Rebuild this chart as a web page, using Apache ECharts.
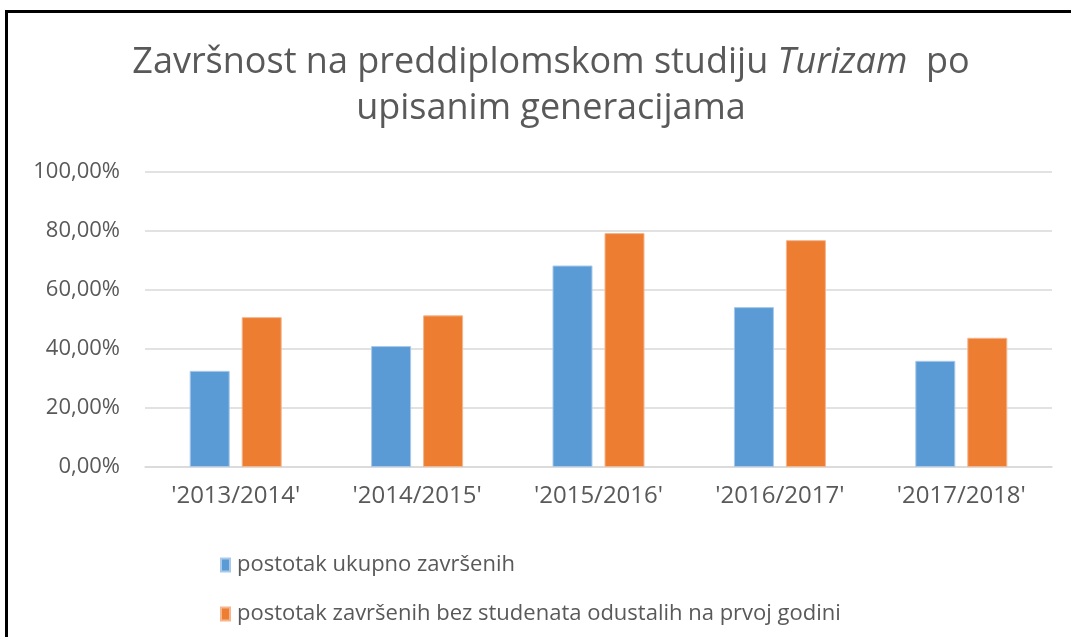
<!DOCTYPE html>
<html>
<head>
<meta charset="utf-8">
<script src="https://cdn.jsdelivr.net/npm/echarts@6/dist/echarts.min.js"></script>
<style>
    html, body { margin: 0; padding: 0; background: #fff; }
    #frame {
        position: absolute; left: 5px; top: 10px; width: 1066px; height: 640px;
        border-left: 3px solid #000; border-top: 3px solid #000;
    }
    #chart { position: absolute; left: 0; top: 0; width: 1071px; height: 637px; }
</style>
</head>
<body>
<div id="frame"></div>
<div id="chart"></div>
<script>
    // generacije
    var generacije = ["'2013/2014'", "'2014/2015'", "'2015/2016'", "'2016/2017'", "'2017/2018'"];
    var ukupnoZavrsenih = [32.6, 41.0, 68.3, 54.2, 36.0];
    var bezOdustalih = [50.8, 51.4, 79.3, 76.9, 43.8];
    var seriesNames = ['postotak ukupno završenih', 'postotak završenih bez studenata odustalih na prvoj godini'];

    var font = "'Open Sans', 'Noto Sans', sans-serif";
    var chart = echarts.init(document.getElementById('chart'));
    chart.setOption({
        animation: false,
        title: {
            text: 'Završnost na preddiplomskom studiju {i|Turizam}  po\nupisanim generacijama',
            left: 546,
            textAlign: 'center',
            top: 35,
            textStyle: {
                fontFamily: font,
                fontSize: 36,
                fontWeight: 'normal',
                color: '#595959',
                lineHeight: 46,
                rich: {
                    i: { fontFamily: font, fontSize: 36, fontStyle: 'italic', color: '#595959', lineHeight: 46 }
                }
            }
        },
        legend: {
            orient: 'vertical',
            left: 215,
            top: 549,
            itemGap: 27,
            itemWidth: 9,
            itemHeight: 13,
            icon: 'rect',
            textStyle: { fontFamily: font, fontSize: 22, color: '#595959', padding: [0, 0, 0, 2] },
            data: seriesNames
        },
        grid: { left: 145, right: 19, top: 172, bottom: 170 },
        xAxis: {
            type: 'category',
            data: generacije,
            axisLine: { show: true, lineStyle: { color: '#D9D9D9', width: 1.5 } },
            axisTick: { show: false },
            axisLabel: { fontFamily: font, fontSize: 24, color: '#595959', margin: 17 }
        },
        yAxis: {
            type: 'value',
            min: 0,
            max: 100,
            interval: 20,
            axisLine: { show: false },
            axisTick: { show: false },
            splitLine: { lineStyle: { color: '#D9D9D9', width: 1.5 } },
            axisLabel: {
                fontFamily: font, fontSize: 22, color: '#595959', margin: 25,
                formatter: function (v) { return v.toFixed(2).replace('.', ',') + '%'; }
            }
        },
        series: [
            {
                name: seriesNames[0],
                type: 'bar',
                data: ukupnoZavrsenih,
                barWidth: 40,
                barGap: '30%',
                itemStyle: { color: '#5B9BD5', borderColor: '#A9C9EA', borderWidth: 1 }
            },
            {
                name: seriesNames[1],
                type: 'bar',
                data: bezOdustalih,
                barWidth: 40,
                itemStyle: { color: '#ED7D31', borderColor: '#F5B68E', borderWidth: 1 }
            }
        ]
    });
</script>
</body>
</html>
